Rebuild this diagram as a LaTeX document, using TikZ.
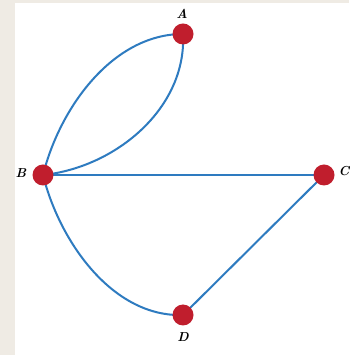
\documentclass[tikz,border=0pt]{standalone}
\begin{document}
\begin{tikzpicture}[x=1pt,y=1pt,
  vertex/.style={circle,fill=nodered,draw=none,minimum size=21pt,inner sep=0pt},
  edge/.style={draw=edgeblue,line width=2pt},
  lbl/.style={font=\fontsize{13}{15}\selectfont\bfseries\itshape,inner sep=0pt}]
\definecolor{nodered}{RGB}{192,30,45}
\definecolor{edgeblue}{RGB}{46,123,192}
\definecolor{bgbeige}{RGB}{239,235,228}
\fill[bgbeige] (0,0) rectangle (349,355);
\fill[white] (15,0) rectangle (349,351.5);
\useasboundingbox (0,0) rectangle (349,355);
\coordinate (pA) at (183,321);
\coordinate (pB) at (43,180);
\coordinate (pC) at (324,180);
\coordinate (pD) at (183,40);
\draw[edge] (pB) to[out=76,in=180,looseness=0.9] (pA);
\draw[edge] (pB) to[out=6,in=-87,looseness=0.95] (pA);
\draw[edge] (pB) -- (pC);
\draw[edge] (pC) -- (pD);
\draw[edge] (pB) to[out=-76,in=182,looseness=0.9] (pD);
\node[vertex] (A) at (pA) {};
\node[vertex] (B) at (pB) {};
\node[vertex] (C) at (pC) {};
\node[vertex] (D) at (pD) {};
\node[lbl] (lA) at (182,341) {A};
\node[lbl] (lB) at (21,182) {B};
\node[lbl] (lC) at (344,184) {C};
\node[lbl] (lD) at (183,18) {D};
\end{tikzpicture}
\end{document}
